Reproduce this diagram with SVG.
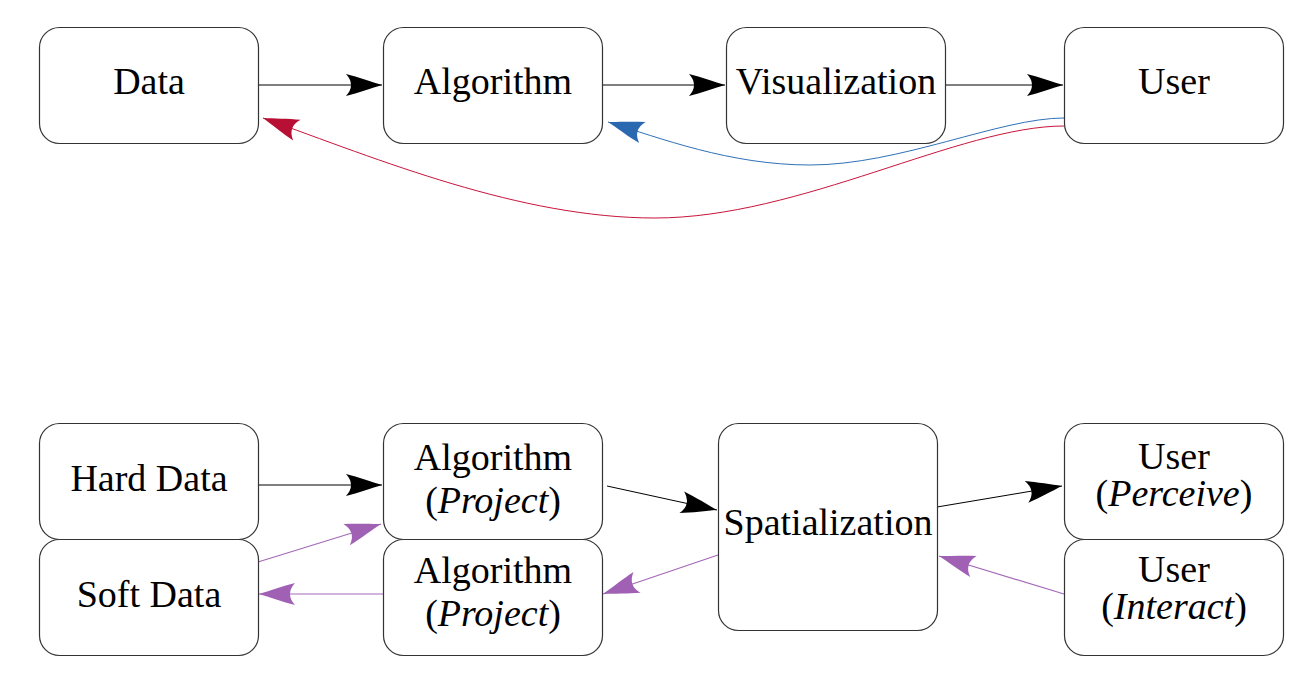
<svg xmlns="http://www.w3.org/2000/svg" width="1308" height="684" viewBox="0 0 1308 684">
<style>
.box{fill:#fff;stroke:#333;stroke-width:1.2}
.t{font-family:'Liberation Serif','Times New Roman',Times,'DejaVu Serif',serif;font-size:38px;fill:#000;text-anchor:middle}
.i{font-style:italic}
.k{fill:none;stroke:#000;stroke-width:1}
.r{fill:none;stroke:#c8143c;stroke-width:1}
.b{fill:none;stroke:#3070b8;stroke-width:1}
.p{fill:none;stroke:#a468b8;stroke-width:1.2}
</style>
<defs>
<marker id="ak" markerUnits="userSpaceOnUse" markerWidth="40" markerHeight="30" refX="36" refY="12" orient="auto" overflow="visible">
<path d="M36,12 C26,9 12,4 0,1 Q10,12 0,23 C12,20 26,15 36,12 Z" fill="#000"/>
</marker>
<marker id="ar" markerUnits="userSpaceOnUse" markerWidth="40" markerHeight="30" refX="36" refY="12" orient="auto" overflow="visible">
<path d="M36,12 C26,9 12,4 0,1 Q10,12 0,23 C12,20 26,15 36,12 Z" fill="#b80f34"/>
</marker>
<marker id="ab" markerUnits="userSpaceOnUse" markerWidth="40" markerHeight="30" refX="36" refY="12" orient="auto" overflow="visible">
<path d="M36,12 C26,9 12,4 0,1 Q10,12 0,23 C12,20 26,15 36,12 Z" fill="#2a68b0"/>
</marker>
<marker id="ap" markerUnits="userSpaceOnUse" markerWidth="40" markerHeight="30" refX="36" refY="12" orient="auto" overflow="visible">
<path d="M36,12 C26,9 12,4 0,1 Q10,12 0,23 C12,20 26,15 36,12 Z" fill="#a060b4"/>
</marker>
</defs>

<g id="connectors">
<line class="k" x1="258" y1="85" x2="382" y2="85" marker-end="url(#ak)"/>
<line class="k" x1="602" y1="85" x2="725" y2="85" marker-end="url(#ak)"/>
<line class="k" x1="945" y1="85" x2="1063" y2="85" marker-end="url(#ak)"/>
<path class="b" d="M1064,118 C1000,118 900,165 810,165 C730,165 660,138 608,122" marker-end="url(#ab)"/>
<path class="r" d="M1064,126 C960,126 800,218 655,218 C520,218 380,160 263,118" marker-end="url(#ar)"/>

<line class="k" x1="258" y1="485" x2="382" y2="485" marker-end="url(#ak)"/>
<line class="k" x1="607" y1="486" x2="717" y2="510" marker-end="url(#ak)"/>
<line class="k" x1="937" y1="507" x2="1062" y2="486" marker-end="url(#ak)"/>
<line class="p" x1="1064" y1="594" x2="939" y2="556" marker-end="url(#ap)"/>
<line class="p" x1="718" y1="555" x2="603" y2="594" marker-end="url(#ap)"/>
<line class="p" x1="383" y1="594" x2="259" y2="594" marker-end="url(#ap)"/>
<line class="p" x1="258" y1="562" x2="381" y2="524" marker-end="url(#ap)"/>
</g>

<g id="data"><rect class="box" x="39.5" y="27.5" width="219" height="116" rx="20"/><text class="t" x="149" y="94">Data</text></g>
<g id="algorithm"><rect class="box" x="383.5" y="27.5" width="219" height="116" rx="20"/><text class="t" x="493" y="94">Algorithm</text></g>
<g id="visualization"><rect class="box" x="726.5" y="27.5" width="219" height="116" rx="20"/><text class="t" x="836" y="94">Visualization</text></g>
<g id="user"><rect class="box" x="1064.5" y="27.5" width="219" height="116" rx="20"/><text class="t" x="1174" y="94">User</text></g>

<g id="hard-data"><rect class="box" x="39.5" y="423.5" width="219" height="116" rx="20"/><text class="t" x="149" y="491">Hard Data</text></g>
<g id="soft-data"><rect class="box" x="39.5" y="539.5" width="219" height="116" rx="20"/><text class="t" x="149" y="607">Soft Data</text></g>
<g id="algorithm-project-1"><rect class="box" x="383.5" y="423.5" width="219" height="116" rx="20"/><text class="t" x="493" y="470">Algorithm</text><text class="t" x="493" y="513">(<tspan class="i">Project</tspan>)</text></g>
<g id="algorithm-project-2"><rect class="box" x="383.5" y="539.5" width="219" height="116" rx="20"/><text class="t" x="493" y="583">Algorithm</text><text class="t" x="493" y="626">(<tspan class="i">Project</tspan>)</text></g>
<g id="spatialization"><rect class="box" x="718.5" y="423.5" width="219" height="207" rx="20"/><text class="t" x="828" y="535">Spatialization</text></g>
<g id="user-perceive"><rect class="box" x="1064.5" y="423.5" width="219" height="116" rx="20"/><text class="t" x="1174" y="469">User</text><text class="t" x="1174" y="506">(<tspan class="i">Perceive</tspan>)</text></g>
<g id="user-interact"><rect class="box" x="1064.5" y="539.5" width="219" height="116" rx="20"/><text class="t" x="1174" y="582">User</text><text class="t" x="1174" y="619">(<tspan class="i">Interact</tspan>)</text></g>
</svg>
